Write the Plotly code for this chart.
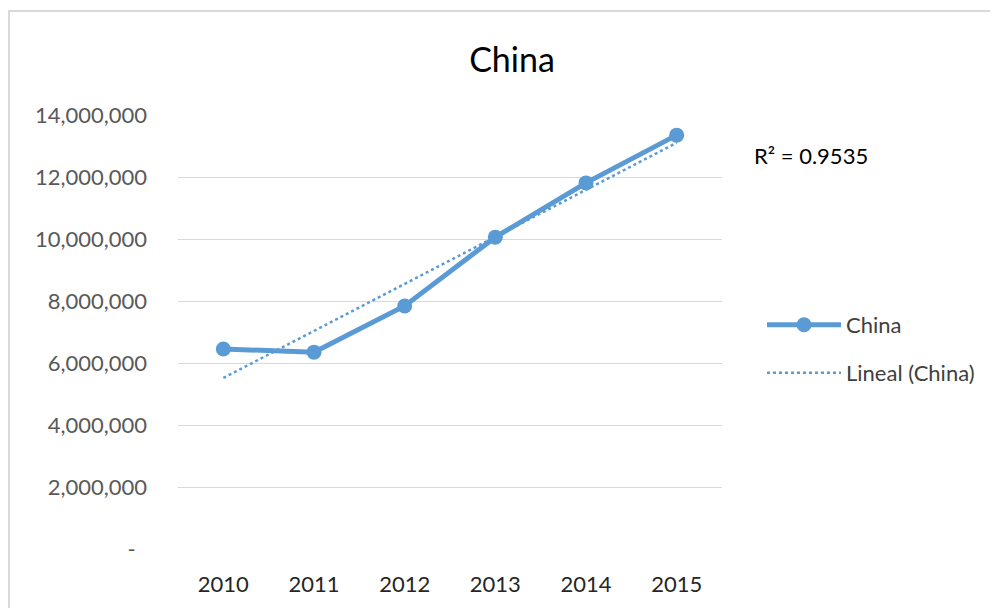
import numpy as np
import plotly.graph_objects as go

years = ["2010", "2011", "2012", "2013", "2014", "2015"]
china = [6450000, 6350000, 7840000, 10060000, 11810000, 13350000]
y_ticks = [0, 2000000, 4000000, 6000000, 8000000, 10000000, 12000000, 14000000]
y_ticktext = ["-  ", "2,000,000", "4,000,000", "6,000,000", "8,000,000",
              "10,000,000", "12,000,000", "14,000,000"]
r2_label = "R² = 0.9535"

# linear trendline fitted from the data
xi = np.arange(len(years))
slope, intercept = np.polyfit(xi, china, 1)
trend = (slope * xi + intercept).tolist()

BLUE = "#5b9bd5"
FONT = "Lato"

OFF = 8  # page body margin
W, H = 998 - OFF, 608 - OFF
# plot area in page pixels, converted to figure pixels
L, R, T, B = 178 - OFF, 722 - OFF, 115 - OFF, 549 - OFF
pw, ph = R - L, B - T

def px(x):
    return (x - OFF - L) / pw

def py(y):
    return (B - (y - OFF)) / ph

fig = go.Figure()
fig.add_trace(go.Scatter(
    x=years, y=china, name="China", mode="lines+markers",
    line=dict(color=BLUE, width=5),
    marker=dict(size=15, color=BLUE),
    legend="legend",
))
fig.add_trace(go.Scatter(
    x=years, y=trend, name="Lineal (China)", mode="lines",
    line=dict(color=BLUE, width=2.5, dash="dot"),
    legend="legend2",
))

fig.update_layout(
    width=W, height=H,
    margin=dict(l=L, r=W - R, t=T, b=H - B, pad=0),
    paper_bgcolor="white", plot_bgcolor="white",
    font=dict(family=FONT, color="#595959"),
    title=dict(text="China", x=px(512), xref="paper", xanchor="center",
               y=1 - (60 - OFF) / H, yanchor="middle",
               font=dict(family=FONT, size=34, color="#000000")),
    xaxis=dict(type="category", range=[-0.5, 5.5], showgrid=False,
               showline=False, zeroline=False, ticks="",
               tickfont=dict(family=FONT, size=22, color="#262626"),
               ticklabelstandoff=20),
    yaxis=dict(range=[0, 14000000], tickvals=y_ticks, ticktext=y_ticktext,
               showgrid=True, gridcolor="#d9d9d9", gridwidth=1,
               zeroline=False, showline=False, ticks="",
               tickfont=dict(family=FONT, size=22, color="#595959"),
               ticklabelstandoff=30),
    legend=dict(x=px(762), y=py(325), xanchor="left", yanchor="middle",
                bgcolor="rgba(0,0,0,0)", itemwidth=74,
                font=dict(family=FONT, size=22, color="#404040")),
    legend2=dict(x=px(762), y=py(373), xanchor="left", yanchor="middle",
                 bgcolor="rgba(0,0,0,0)", itemwidth=74,
                 font=dict(family=FONT, size=22, color="#404040")),
    showlegend=True,
    annotations=[dict(text=r2_label, x=px(752), y=py(155), xref="paper",
                      yref="paper", xanchor="left", yanchor="middle",
                      showarrow=False,
                      font=dict(family=FONT, size=22, color="#000000"))],
    shapes=[dict(type="rect", xref="paper", yref="paper",
                 x0=px(9), x1=px(1010), y0=py(11), y1=py(620),
                 line=dict(color="#d9d9d9", width=2), fillcolor="rgba(0,0,0,0)",
                 layer="below")],
)

fig.write_html("out.html")
